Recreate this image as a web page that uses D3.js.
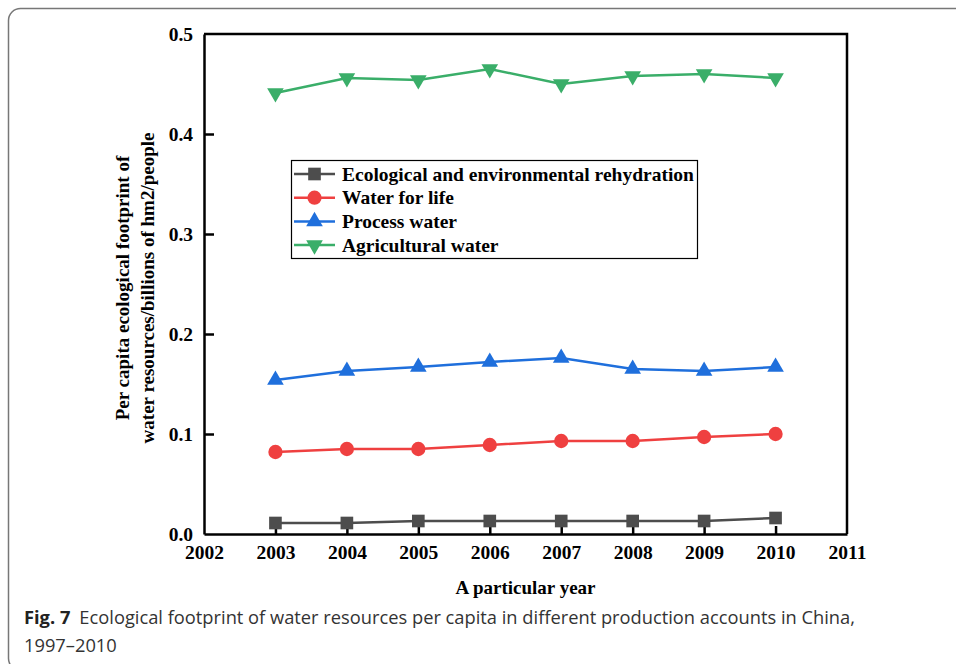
<!DOCTYPE html>
<html>
<head>
<meta charset="utf-8">
<script src="https://cdn.jsdelivr.net/npm/d3@7"></script>
<style>
  body { margin: 0; background: #fff; }
  svg { display: block; }
</style>
</head>
<body>
<svg id="plot" width="956" height="664"></svg>
<script>
let years = [2003, 2004, 2005, 2006, 2007, 2008, 2009, 2010]
let xTicks = [2002, 2003, 2004, 2005, 2006, 2007, 2008, 2009, 2010, 2011]
let yTicks = [0.0, 0.1, 0.2, 0.3, 0.4, 0.5]

let ecological = [0.011, 0.011, 0.013, 0.013, 0.013, 0.013, 0.013, 0.016]
let life = [0.082, 0.085, 0.085, 0.089, 0.093, 0.093, 0.097, 0.100]
let process = [0.154, 0.163, 0.167, 0.172, 0.176, 0.165, 0.163, 0.167]
let agricultural = [0.441, 0.456, 0.454, 0.465, 0.450, 0.458, 0.460, 0.456]

let seriesNames = ["Ecological and environmental rehydration", "Water for life", "Process water", "Agricultural water"]
let seriesColors = ["#4d4d4d", "#ef4040", "#1f6fdc", "#3aae69"]
let seriesShapes = [d3.symbolSquare, d3.symbolCircle, d3.symbolTriangle, d3.symbolTriangle]
let seriesData = [ecological, life, process, agricultural]

let svg = d3.select("#plot")

let margin_left = 204, margin_top = 34
let plot_width = 643, plot_height = 500

let x_scale = d3.scaleLinear([2002, 2011], [margin_left, margin_left + plot_width])
let y_scale = d3.scaleLinear([0, 0.5], [margin_top + plot_height, margin_top])

// outer frame
svg.append("rect")
  .attr("x", 8.5).attr("y", 8.5)
  .attr("width", 1000).attr("height", 662)
  .attr("rx", 12)
  .attr("fill", "none")
  .attr("stroke", "#777")
  .attr("stroke-width", 1.5)

let font = "'Liberation Serif', 'Times New Roman', serif"
let fsize = "19px"

// axes
let xAxis = d3.axisBottom(x_scale).tickValues(xTicks).tickFormat(d3.format("d")).tickSizeInner(-8).tickSizeOuter(0).tickPadding(11)
let yAxis = d3.axisLeft(y_scale).tickValues(yTicks).tickFormat(d3.format(".1f")).tickSizeInner(-10).tickSizeOuter(0).tickPadding(11)

let gx = svg.append("g")
  .attr("transform", `translate(0,${margin_top + plot_height})`)
  .call(xAxis)
let gy = svg.append("g")
  .attr("transform", `translate(${margin_left},0)`)
  .call(yAxis)

for (let g of [gx, gy]) {
  g.selectAll("path, line").attr("stroke", "#000").attr("stroke-width", 2.5)
  g.selectAll("text")
    .attr("fill", "#000")
    .style("font-family", font)
    .style("font-weight", "bold")
    .style("font-size", "19.5px")
}
gx.selectAll(".tick").filter(d => d == 2002 || d == 2011).select("line").remove()
gy.selectAll(".tick").filter(d => d == 0 || d == 0.5).select("line").remove()

// top and right border
svg.append("path")
  .attr("d", `M${margin_left},${margin_top}H${margin_left + plot_width}V${margin_top + plot_height}`)
  .attr("fill", "none")
  .attr("stroke", "#000")
  .attr("stroke-width", 2.5)

// lines and markers
let line = d3.line().x((d, i) => x_scale(years[i])).y(d => y_scale(d))

seriesData.forEach((vals, s) => {
  let g = svg.append("g")
  g.append("path")
    .attr("d", line(vals))
    .attr("fill", "none")
    .attr("stroke", seriesColors[s])
    .attr("stroke-width", 2.5)
  g.selectAll("path.mk")
    .data(vals)
    .join("path")
    .attr("class", "mk")
    .attr("d", d3.symbol(seriesShapes[s], s >= 2 ? 120 : 160))
    .attr("transform", (d, i) => `translate(${x_scale(years[i])},${y_scale(d)})${s == 3 ? " rotate(180)" : ""}`)
    .attr("fill", seriesColors[s])
})

// legend
let legend = svg.append("g").attr("transform", "translate(291,160)")
legend.append("rect")
  .attr("x", 0.5).attr("y", 0.5)
  .attr("width", 406).attr("height", 98)
  .attr("fill", "#fff")
  .attr("stroke", "#000")
  .attr("stroke-width", 1.2)

seriesNames.forEach((name, s) => {
  let yy = 14 + s * 23.7
  legend.append("line")
    .attr("x1", 3).attr("x2", 44)
    .attr("y1", yy).attr("y2", yy)
    .attr("stroke", seriesColors[s])
    .attr("stroke-width", 2.5)
  legend.append("path")
    .attr("d", d3.symbol(seriesShapes[s], s >= 2 ? 120 : 160))
    .attr("transform", `translate(23.5,${yy})${s == 3 ? " rotate(180)" : ""}`)
    .attr("fill", seriesColors[s])
  legend.append("text")
    .attr("x", 51).attr("y", yy + 6.5)
    .style("font-family", font)
    .style("font-weight", "bold")
    .style("font-size", "19.5px")
    .text(name)
})

// axis titles
svg.append("text")
  .attr("text-anchor", "middle")
  .attr("x", margin_left + plot_width / 2)
  .attr("y", 594)
  .style("font-family", font)
  .style("font-weight", "bold")
  .style("font-size", fsize)
  .text("A particular year")

let ylab = svg.append("text")
  .attr("text-anchor", "middle")
  .attr("transform", `translate(129,${margin_top + plot_height / 2 + 4}) rotate(-90)`)
  .style("font-family", font)
  .style("font-weight", "bold")
  .style("font-size", fsize)
ylab.append("tspan").attr("x", 0).attr("y", 0).text("Per capita ecological footprint of")
ylab.append("tspan").attr("x", 0).attr("y", 25).text("water resources/billions of hm2/people")

// caption
let capFont = "'Open Sans', 'Noto Sans', sans-serif"
let cap = svg.append("text")
  .attr("x", 24).attr("y", 624)
  .style("font-family", capFont)
  .style("font-size", "18.3px")
  .attr("fill", "#333")
cap.append("tspan").style("font-weight", "bold").attr("fill", "#222").text("Fig. 7")
cap.append("tspan").attr("dx", 9).text("Ecological footprint of water resources per capita in different production accounts in China,")
svg.append("text")
  .attr("x", 24).attr("y", 652)
  .style("font-family", capFont)
  .style("font-size", "18.3px")
  .attr("fill", "#333")
  .text("1997–2010")
</script>
</body>
</html>
